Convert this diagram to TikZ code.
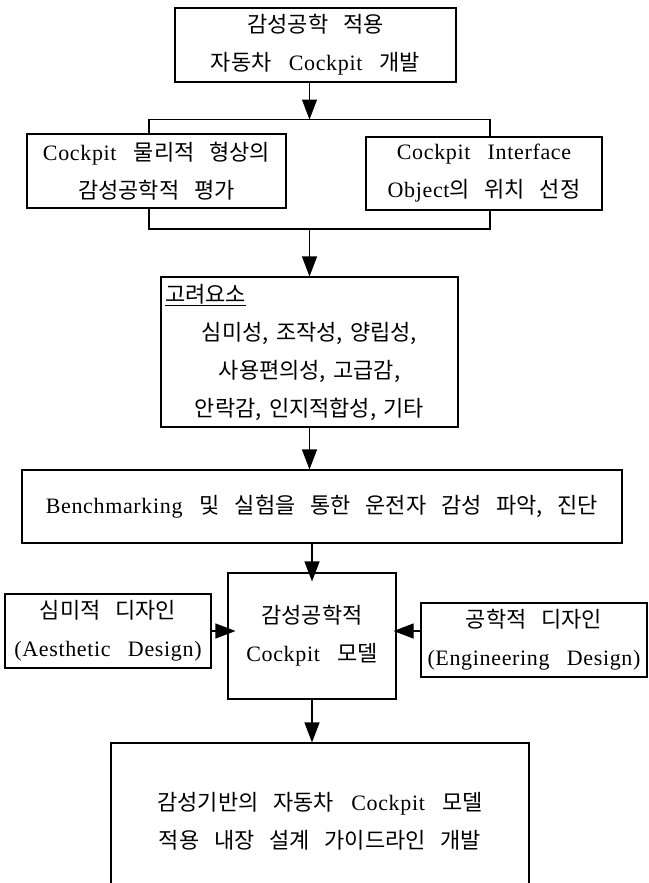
\documentclass[tikz,border=0pt]{standalone}
\usepackage{fontspec}
\setmainfont[LetterSpace=3,WordSpace=2.8]{Liberation Serif}
\newfontfamily\krfont[Scale=1.0,WordSpace=3.0]{Noto Sans CJK KR}
\newcommand{\ko}[1]{{\krfont #1}}
\usetikzlibrary{arrows.meta,positioning}

\begin{document}
\begin{tikzpicture}[x=1pt, y=-1pt,
    font=\fontsize{22}{38}\selectfont,
    box/.style={draw, line width=1.1pt, align=center, inner sep=0pt},
    flow/.style={line width=1.1pt, -{Triangle[length=20pt,width=15pt]}},
    bus/.style={line width=1.1pt}]
  \useasboundingbox (0,0) rectangle (648,883);

  % boxes
  \node[box, minimum width=281pt, minimum height=74pt] (top) at (315.5,45)
    {\ko{감성공학 적용}\\ \ko{자동차} Cockpit \ko{개발}};
  \node[box, minimum width=259pt, minimum height=74pt] (phys) at (156.5,171)
    {Cockpit \ko{물리적 형상의}\\ \ko{감성공학적 평가}};
  \node[box, minimum width=236pt, minimum height=73pt] (iface) at (484,173.5)
    {Cockpit Interface\\ Object\ko{의 위치 선정}};
  \node[box, minimum width=297pt, minimum height=150pt, text width=289pt] (factors) at (309.5,352)
    {\makebox[\hsize][l]{\underline{\ko{고려요소}}}\\
     \ko{심미성, 조작성, 양립성,}\\
     \ko{사용편의성, 고급감,}\\
     \ko{안락감, 인지적합성, 기타}};
  \node[box, minimum width=600pt, minimum height=73pt] (bench) at (322,506.5)
    {Benchmarking \ko{및 실험을 통한 운전자 감성 파악, 진단}};
  \node[box, minimum width=168pt, minimum height=126pt] (model) at (312,636)
    {\ko{감성공학적}\\ Cockpit \ko{모델}};
  \node[box, minimum width=206pt, minimum height=74pt] (aes) at (108,631)
    {\ko{심미적 디자인}\\ (Aesthetic Design)};
  \node[box, minimum width=226pt, minimum height=74pt] (eng) at (534,640)
    {\ko{공학적 디자인}\\ (Engineering Design)};
  \node[box, minimum width=418pt, minimum height=157pt] (guide) at (320,821.5)
    {\ko{감성기반의 자동차} Cockpit \ko{모델}\\ \ko{적용 내장 설계 가이드라인 개발}};

  % split and merge lines
  \coordinate (busA) at (149,119.5);
  \coordinate (busB) at (490,119.5);
  \coordinate (busC) at (149,229);
  \coordinate (busD) at (490,229);
  \draw[bus] (busA |- phys.north) -- (busA) -- (busB) -- (busB |- iface.north);
  \draw[bus] (busC |- phys.south) -- (busC) -- (busD) -- (busD |- iface.south);

  % arrows
  \draw[flow] (top.south -| factors) -- (busA -| factors);
  \draw[flow] (busC -| factors) -- (factors.north);
  \draw[flow] (factors.south) -- (factors.south |- bench.north);
  \draw[flow, shorten >=-9pt] (model.north |- bench.south) -- (model.north);
  \draw[flow, shorten >=-8pt] (aes.east) -- (aes.east -| model.west);
  \draw[flow, shorten >=-3pt] (eng.west |- aes.east) -- (aes.east -| model.east);
  \draw[flow] (model.south) -- (model.south |- guide.north);
\end{tikzpicture}
\end{document}
